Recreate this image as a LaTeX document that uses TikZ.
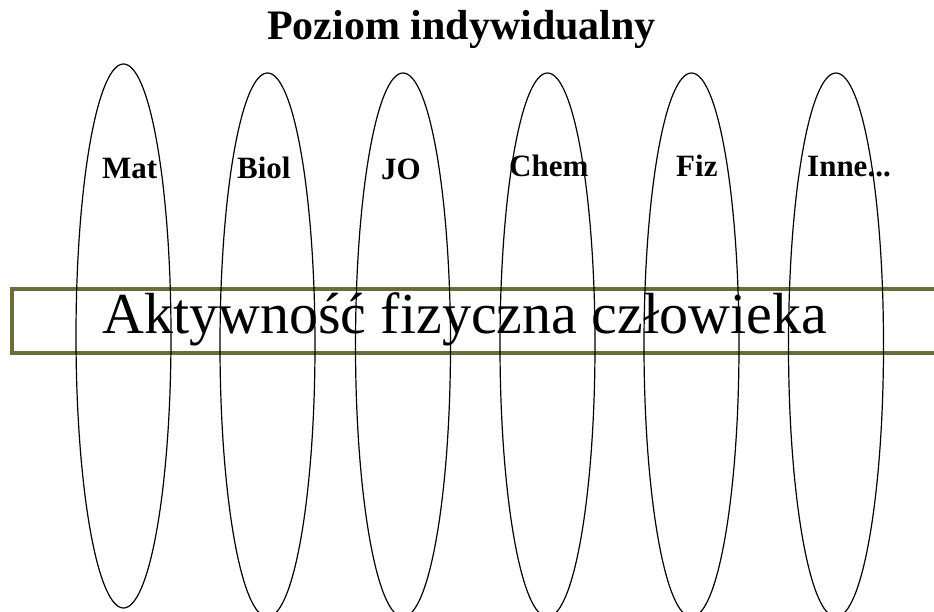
\documentclass[tikz,border=0pt]{standalone}
\usepackage{fontspec}
\setmainfont{Liberation Serif}
\usetikzlibrary{shapes.geometric}
\definecolor{bandolive}{RGB}{108,108,58}
\tikzset{
  subject/.style={draw=black, line width=1.2pt, ellipse, inner sep=0pt,
    minimum width=95pt, minimum height=544pt},
  sublabel/.style={anchor=base west, inner sep=0pt,
    font=\fontsize{31}{31}\selectfont\bfseries},
  band/.style={draw=bandolive, line width=4pt}
}
\begin{document}
\begin{tikzpicture}[x=1pt,y=-1pt]
  \useasboundingbox (0,0) rectangle (934,612);
  % title
  \node[anchor=base west, inner sep=0pt, font=\fontsize{42}{42}\selectfont\bfseries]
    (title) at (267,40) {Poziom indywidualny};
  % horizontal band with the central theme
  \draw[band] (12,288.7) rectangle (945,352.5);
  \node[anchor=base west, inner sep=0pt, font=\fontsize{58}{58}\selectfont]
    (theme) at (102,333) {Aktywność fizyczna człowieka};
  % one ellipse per school subject
  \node[subject] (e1) at (123.5,336) {};
  \node[subject] (e2) at (267.5,345) {};
  \node[subject] (e3) at (403,345) {};
  \node[subject] (e4) at (547.5,345) {};
  \node[subject] (e5) at (691.5,345) {};
  \node[subject] (e6) at (836,345) {};
  % subject labels
  \node[sublabel] (l1) at (102,179) {Mat};
  \node[sublabel] (l2) at (237,179) {Biol};
  \node[sublabel] (l3) at (381,180) {JO};
  \node[sublabel] (l4) at (509,177) {Chem};
  \node[sublabel] (l5) at (676,177) {Fiz};
  \node[sublabel] (l6) at (807,177) {Inne...};
\end{tikzpicture}
\end{document}
